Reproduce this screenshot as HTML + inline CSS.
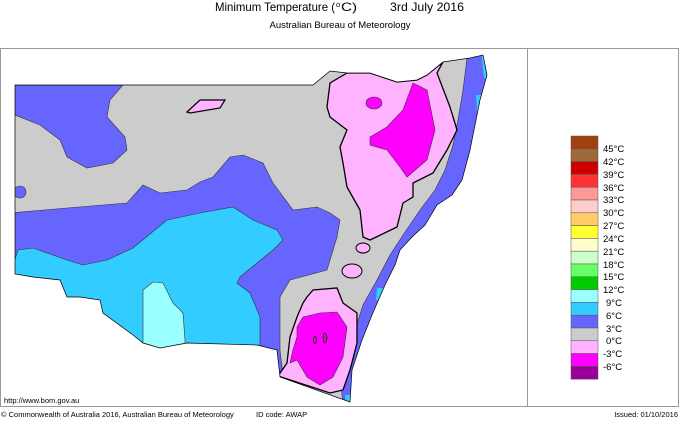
<!DOCTYPE html>
<html><head><meta charset="utf-8"><style>
body{margin:0;background:#fff;width:680px;height:420px;overflow:hidden}
text{font-family:"Liberation Sans",sans-serif}
</style></head><body>
<svg width="680" height="420" viewBox="0 0 680 420" xmlns="http://www.w3.org/2000/svg">
<text x="215" y="11" font-size="12" textLength="120" lengthAdjust="spacingAndGlyphs">Minimum Temperature (</text>
<text x="336" y="7" font-size="7.5">o</text>
<text x="341" y="11" font-size="12" textLength="16" lengthAdjust="spacingAndGlyphs">C)</text>
<text x="390" y="11" font-size="12" textLength="74" lengthAdjust="spacingAndGlyphs">3rd July 2016</text>
<text x="340" y="28" font-size="9.5" text-anchor="middle">Australian Bureau of Meteorology</text>
<rect x="0.5" y="48.5" width="678" height="358" fill="none" stroke="#999" stroke-width="1"/>
<line x1="527.5" y1="48" x2="527.5" y2="407" stroke="#999"/>
<defs><clipPath id="st"><path id="stp" d="M15,85 L313,85 L330,71 L347,73 L370,73 L397,82 L417,80 L427,75 L443,62 L470,58 L483,55 L487,75 L480,100 L476,120 L470,150 L462,180 L452,195 L437,205 L425,225 L412,237 L400,250 L395,265 L385,285 L372,315 L362,340 L352,370 L350,402 L280,377 L277,350 L257,345 L187,343 L160,348 L143,343 L133,335 L103,313 L100,300 L80,297 L67,297 L60,280 L33,277 L15,274 Z"/></clipPath></defs>
<g clip-path="url(#st)">
<rect x="0" y="40" width="530" height="380" fill="#cccccc"/>
<path d="M15,85 L123,85 L110,100 L107,117 L125,137 L127,150 L113,163 L87,168 L67,157 L60,140 L40,125 L15,115Z" fill="#6666ff" stroke="#333" stroke-width=".6"/>
<ellipse cx="20" cy="192" rx="6" ry="6" fill="#6666ff" stroke="#333" stroke-width=".6"/>
<path d="M10,213 L67,208 L127,203 L143,185 L160,193 L187,190 L200,182 L213,177 L230,157 L243,155 L263,163 L273,183 L293,210 L317,207 L330,213 L340,220 L337,237 L327,270 L290,280 L280,297 L280,350 L283,375 L283,420 L10,420Z" fill="#6666ff" stroke="#333" stroke-width=".6"/>
<path d="M18,250 L33,248 L67,260 L83,265 L107,260 L133,248 L167,220 L200,213 L233,207 L253,220 L277,230 L283,240 L273,250 L257,263 L240,277 L237,283 L250,293 L260,317 L260,345 L260,420 L10,420 L10,275Z" fill="#33ccff" stroke="#333" stroke-width=".6"/>
<path d="M143,290 L153,282 L163,283 L173,303 L183,313 L185,340 L185,420 L143,420 L143,317Z" fill="#99ffff" stroke="#333" stroke-width=".6"/>
<path d="M187,112 L200,100 L225,100 L220,108 L190,113Z" fill="#ffb3ff" stroke="#000" stroke-width="1.2"/>
<path d="M468,50 L463,90 L458,120 L453,145 L445,170 L435,190 L420,210 L405,232 L390,255 L377,280 L363,305 L355,330 L347,355 L340,375 L343,405 L500,405 L500,50Z" fill="#6666ff" stroke="#333" stroke-width=".6"/>
<path d="M481,50 L490,50 L490,80 L484,78Z M476,95 L485,95 L482,112 L477,112Z M377,288 L386,288 L384,302 L376,300Z M345,395 L352,395 L352,405 L346,405Z" fill="#33ccff"/>
<path d="M327,107 L330,83 L347,73 L370,73 L397,82 L417,80 L427,75 L443,62 L437,73 L450,107 L457,130 L447,150 L433,173 L413,183 L413,197 L403,203 L397,227 L370,240 L363,237 L360,210 L347,187 L343,163 L340,147 L347,130 L330,117Z" fill="#ffb3ff" stroke="#000" stroke-width="1.3"/>
<path d="M370,137 L387,127 L403,110 L413,83 L427,90 L435,130 L427,160 L407,177 L397,163 L387,150 L370,145Z" fill="#ff00ff" stroke="#333" stroke-width=".6"/>
<ellipse cx="374" cy="103" rx="8" ry="6" fill="#ff00ff" stroke="#333" stroke-width=".6"/>
<ellipse cx="363" cy="248" rx="7" ry="5" fill="#ffb3ff" stroke="#000" stroke-width="1"/>
<ellipse cx="352" cy="271" rx="10" ry="7" fill="#ffb3ff" stroke="#000" stroke-width="1"/>
<path d="M303,303 L307,297 L313,290 L337,288 L343,303 L357,313 L357,343 L350,370 L343,390 L330,393 L278,376 L287,363 L290,337 L297,317Z" fill="#ffb3ff" stroke="#000" stroke-width="1.3"/>
<path d="M297,327 L303,317 L320,313 L337,312 L347,327 L343,357 L333,377 L320,385 L307,377 L297,360 L290,363 L293,350 L297,337Z" fill="#ff00ff" stroke="#333" stroke-width=".6"/>
<ellipse cx="325" cy="338" rx="2" ry="5" fill="#993399" stroke="#000" stroke-width=".5"/>
<ellipse cx="315" cy="340" rx="1.5" ry="4" fill="#993399" stroke="#000" stroke-width=".5"/>
</g>
<use href="#stp" fill="none" stroke="#000" stroke-width=".7"/>
<g stroke="#555" stroke-width=".5">
<rect x="571" y="136" width="27" height="12.8" fill="#a0410d"/>
<rect x="571" y="148.8" width="27" height="12.8" fill="#a0673a"/>
<rect x="571" y="161.6" width="27" height="12.8" fill="#cc0000"/>
<rect x="571" y="174.4" width="27" height="12.8" fill="#ff3333"/>
<rect x="571" y="187.2" width="27" height="12.8" fill="#ff9999"/>
<rect x="571" y="200" width="27" height="12.8" fill="#ffcccc"/>
<rect x="571" y="212.8" width="27" height="12.8" fill="#ffcc66"/>
<rect x="571" y="225.6" width="27" height="12.8" fill="#ffff33"/>
<rect x="571" y="238.4" width="27" height="12.8" fill="#ffffcc"/>
<rect x="571" y="251.2" width="27" height="12.8" fill="#ccffcc"/>
<rect x="571" y="264" width="27" height="12.8" fill="#66ff66"/>
<rect x="571" y="276.8" width="27" height="12.8" fill="#00cc00"/>
<rect x="571" y="289.6" width="27" height="12.8" fill="#99ffff"/>
<rect x="571" y="302.4" width="27" height="12.8" fill="#33ccff"/>
<rect x="571" y="315.2" width="27" height="12.8" fill="#6666ff"/>
<rect x="571" y="328" width="27" height="12.8" fill="#cccccc"/>
<rect x="571" y="340.8" width="27" height="12.8" fill="#ffb3ff"/>
<rect x="571" y="353.6" width="27" height="12.8" fill="#ff00ff"/>
<rect x="571" y="366.4" width="27" height="12.8" fill="#990099"/>
</g>
<g font-size="9.5">
<text x="603" y="152">45°C</text><text x="603" y="165">42°C</text><text x="603" y="178">39°C</text>
<text x="603" y="191">36°C</text><text x="603" y="203">33°C</text><text x="603" y="216">30°C</text>
<text x="603" y="229">27°C</text><text x="603" y="242">24°C</text><text x="603" y="255">21°C</text>
<text x="603" y="268">18°C</text><text x="603" y="280">15°C</text><text x="603" y="293">12°C</text>
<text x="606" y="306">9°C</text><text x="606" y="319">6°C</text><text x="606" y="332">3°C</text>
<text x="606" y="344">0°C</text><text x="603" y="357">-3°C</text><text x="603" y="370">-6°C</text>
</g>
<text x="4" y="403" font-size="7.5">http://www.bom.gov.au</text>
<text x="1" y="417" font-size="7.5">© Commonwealth of Australia 2016, Australian Bureau of Meteorology</text>
<text x="256" y="417" font-size="7.5">ID code: AWAP</text>
<text x="678" y="417" font-size="7.5" text-anchor="end">Issued: 01/10/2016</text>
</svg>
</body></html>
